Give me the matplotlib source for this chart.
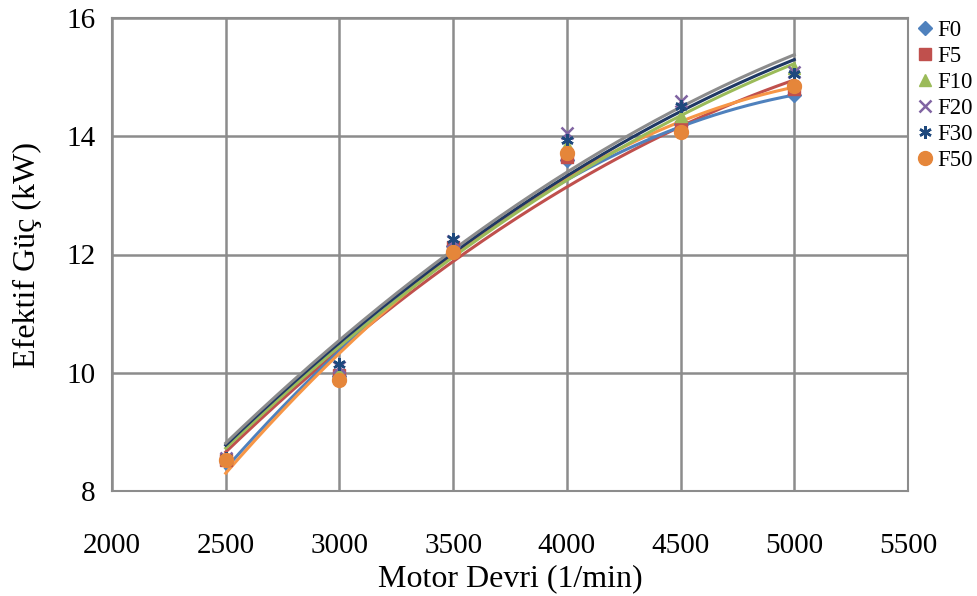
import numpy as np
import matplotlib.pyplot as plt

# engine speed (1/min)
rpm = [2500, 3000, 3500, 4000, 4500, 5000]

# effective power (kW) measured for each fuel blend
f0 = [8.52, 9.95, 12.15, 13.60, 14.20, 14.70]
f5 = [8.52, 9.97, 12.12, 13.65, 14.15, 14.80]
f10 = [8.55, 10.02, 12.20, 13.85, 14.35, 15.15]
f20 = [8.55, 10.10, 12.22, 14.05, 14.60, 15.08]
f30 = [8.55, 10.15, 12.27, 13.94, 14.52, 15.05]
f50 = [8.52, 9.88, 12.05, 13.72, 14.07, 14.85]

# trendline values at the same speeds
t0 = [8.41, 10.33, 11.98, 13.28, 14.20, 14.67]
t5 = [8.66, 10.39, 11.88, 13.14, 14.17, 14.95]
t10 = [8.73, 10.44, 11.95, 13.26, 14.36, 15.22]
t20 = [8.81, 10.55, 12.08, 13.39, 14.49, 15.38]
t30 = [8.78, 10.50, 12.02, 13.33, 14.43, 15.29]
t50 = [8.30, 10.33, 12.00, 13.30, 14.25, 14.83]

labels = ['F0', 'F5', 'F10', 'F20', 'F30', 'F50']
series = [f0, f5, f10, f20, f30, f50]
trends = [t0, t5, t10, t20, t30, t50]
markers = ['D', 's', '^', 'x', (6, 2, 0), 'o']
marker_colors = ['#4F81BD', '#C0504D', '#9BBB59', '#8064A2', '#1F497D', '#E5863A']
trend_colors = ['#4F81BD', '#C0504D', '#9BBB59', '#8C8C8C', '#1F3864', '#F79646']
marker_sizes = [7, 8, 8, 9, 9, 10]

plt.rcParams['font.family'] = ['Liberation Serif', 'DejaVu Serif']

fig = plt.figure(figsize=(9.78, 5.96), dpi=100)
ax = fig.add_axes([112 / 978, 1 - 491 / 596, (908 - 112) / 978, (491 - 18) / 596])

xs = np.linspace(2500, 5000, 200)
order = [1, 0, 5, 2, 4, 3]
for i in order:
    coef = np.polyfit(rpm, trends[i], 2)
    ax.plot(xs, np.polyval(coef, xs), color=trend_colors[i], lw=2.2, zorder=2)

for i in range(len(series)):
    mew = 1.8 if labels[i] in ('F20', 'F30') else 1
    ax.plot(rpm, series[i], linestyle='none', marker=markers[i],
            markersize=marker_sizes[i], color=marker_colors[i],
            markeredgewidth=mew, markeredgecolor=marker_colors[i],
            label=labels[i], zorder=3)

ax.set_xlim(2000, 5500)
ax.set_ylim(8, 16)
ax.set_xticks(range(2000, 5501, 500))
ax.set_yticks([8, 10, 12, 14, 16])
ax.grid(True, color='#8C8C8C', lw=1.8)
ax.set_axisbelow(True)
for s in ax.spines.values():
    s.set_color('#8C8C8C')
    s.set_linewidth(1.5)
ax.tick_params(length=0, labelsize=21)
ax.tick_params(axis='x', pad=30)
ax.tick_params(axis='y', pad=12)
ax.set_xlabel('Motor Devri (1/min)', fontsize=23, labelpad=4)
ax.set_ylabel('Efektif Güç (kW)', fontsize=23, labelpad=17)

ax.legend(loc='upper left', bbox_to_anchor=(918 / 978, 1 - 20 / 596),
          bbox_transform=fig.transFigure, frameon=False,
          fontsize=16.5, handlelength=0.6, handletextpad=0.25, labelspacing=0.22,
          borderaxespad=0, borderpad=0)

fig.savefig('out.png', dpi=100)
